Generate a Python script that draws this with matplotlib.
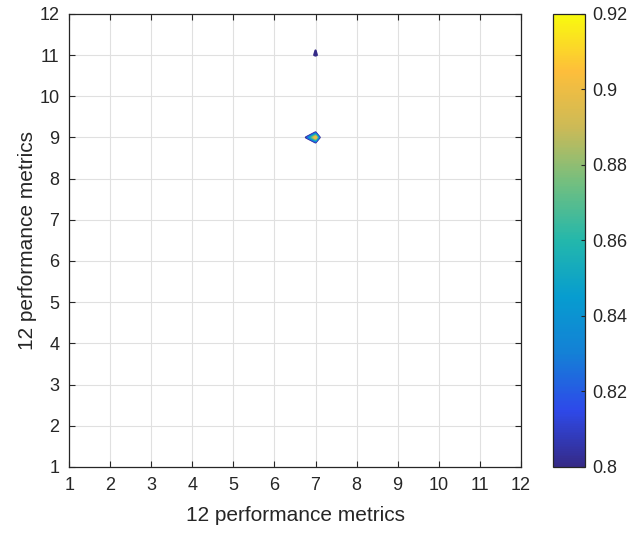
import numpy as np
import matplotlib
matplotlib.use("Agg")
import matplotlib.pyplot as plt
from matplotlib.colors import LinearSegmentedColormap, Normalize
from matplotlib.cm import ScalarMappable


plt.rcParams["font.family"] = ["Liberation Sans", "DejaVu Sans"]

# metric indices on both axes
metrics = list(range(1, 13))

# values per row (y = 1 .. 12), columns are x = 1 .. 12
r01 = [0.52, 0.47, 0.33, 0.58, 0.41, 0.45, 0.39, 0.56, 0.62, 0.44, 0.50, 0.37]
r02 = [0.44, 0.60, 0.49, 0.35, 0.53, 0.40, 0.46, 0.51, 0.38, 0.57, 0.43, 0.48]
r03 = [0.39, 0.48, 0.63, 0.51, 0.44, 0.57, 0.42, 0.36, 0.49, 0.45, 0.59, 0.40]
r04 = [0.57, 0.41, 0.46, 0.66, 0.38, 0.50, 0.55, 0.43, 0.47, 0.52, 0.35, 0.61]
r05 = [0.45, 0.54, 0.40, 0.48, 0.64, 0.43, 0.37, 0.59, 0.42, 0.50, 0.46, 0.39]
r06 = [0.48, 0.36, 0.55, 0.43, 0.51, 0.67, 0.44, 0.40, 0.56, 0.38, 0.53, 0.47]
r07 = [0.36, 0.50, 0.42, 0.57, 0.46, 0.39, 0.61, 0.48, 0.41, 0.54, 0.44, 0.58]
r08 = [0.55, 0.42, 0.61, 0.39, 0.47, 0.58, 0.00, 0.54, 0.38, 0.49, 0.60, 0.41]
r09 = [0.37, 0.53, 0.45, 0.41, 0.63, 0.44, 0.91, -0.19, 0.50, 0.57, 0.42, 0.46]
r10 = [0.50, 0.44, 0.36, 0.58, 0.49, 0.55, 0.00, 0.47, 0.62, 0.40, 0.48, 0.35]
r11 = [0.46, 0.39, 0.57, 0.42, 0.60, 0.50, 0.81, 0.50, 0.51, 0.43, 0.37, 0.45]
r12 = [0.41, 0.52, 0.38, 0.47, 0.55, 0.62, 0.72, 0.58, 0.44, 0.36, 0.49, 0.53]

cbar_ticks = [0.80, 0.82, 0.84, 0.86, 0.88, 0.90, 0.92]

Z = np.array([r01, r02, r03, r04, r05, r06, r07, r08, r09, r10, r11, r12])

# parula-like colormap (matlab default)
parula = LinearSegmentedColormap.from_list("parula", [
    (0.2081, 0.1663, 0.5292),
    (0.1801, 0.2875, 0.9167),
    (0.0779, 0.5040, 0.8384),
    (0.0265, 0.6137, 0.8135),
    (0.1380, 0.7190, 0.6724),
    (0.4420, 0.7481, 0.5033),
    (0.8000, 0.7300, 0.3400),
    (0.9932, 0.7464, 0.2305),
    (0.9763, 0.9831, 0.0538),
])
norm = Normalize(vmin=0.80, vmax=0.92)

fig = plt.figure(figsize=(6.29, 5.33), dpi=100)
ax = fig.add_axes([0.110, 0.124, 0.718, 0.850])
cax = fig.add_axes([0.879, 0.124, 0.051, 0.850])

X, Y = np.meshgrid(metrics, metrics)
levels = np.arange(0.80, 0.921, 0.01)
ax.contour(X, Y, Z, levels=levels, cmap=parula, norm=norm, linewidths=1.6)

ax.set_xlim(1, 12)
ax.set_ylim(1, 12)
ax.set_xticks(metrics)
ax.set_yticks(metrics)
ax.grid(True, color="#e0e0e0", linewidth=0.8)
ax.set_axisbelow(True)
ax.tick_params(direction="in", top=True, right=True, length=4,
               labelsize=13, colors="#262626", width=0.8, pad=7)
for s in ax.spines.values():
    s.set_color("#262626")
    s.set_linewidth(0.9)

ax.set_xlabel("12 performance metrics", fontsize=15, color="#262626", labelpad=9)
ax.set_ylabel("12 performance metrics", fontsize=15, color="#262626", labelpad=2)

cb = fig.colorbar(ScalarMappable(norm=norm, cmap=parula), cax=cax)
cb.set_ticks(cbar_ticks)
cb.set_ticklabels([f"{t:g}" for t in cbar_ticks])
cb.ax.tick_params(direction="in", length=3, labelsize=13, colors="#262626",
                  width=0.8, pad=5)
cb.outline.set_edgecolor("#262626")
cb.outline.set_linewidth(0.9)

fig.savefig("out.png", dpi=100)
